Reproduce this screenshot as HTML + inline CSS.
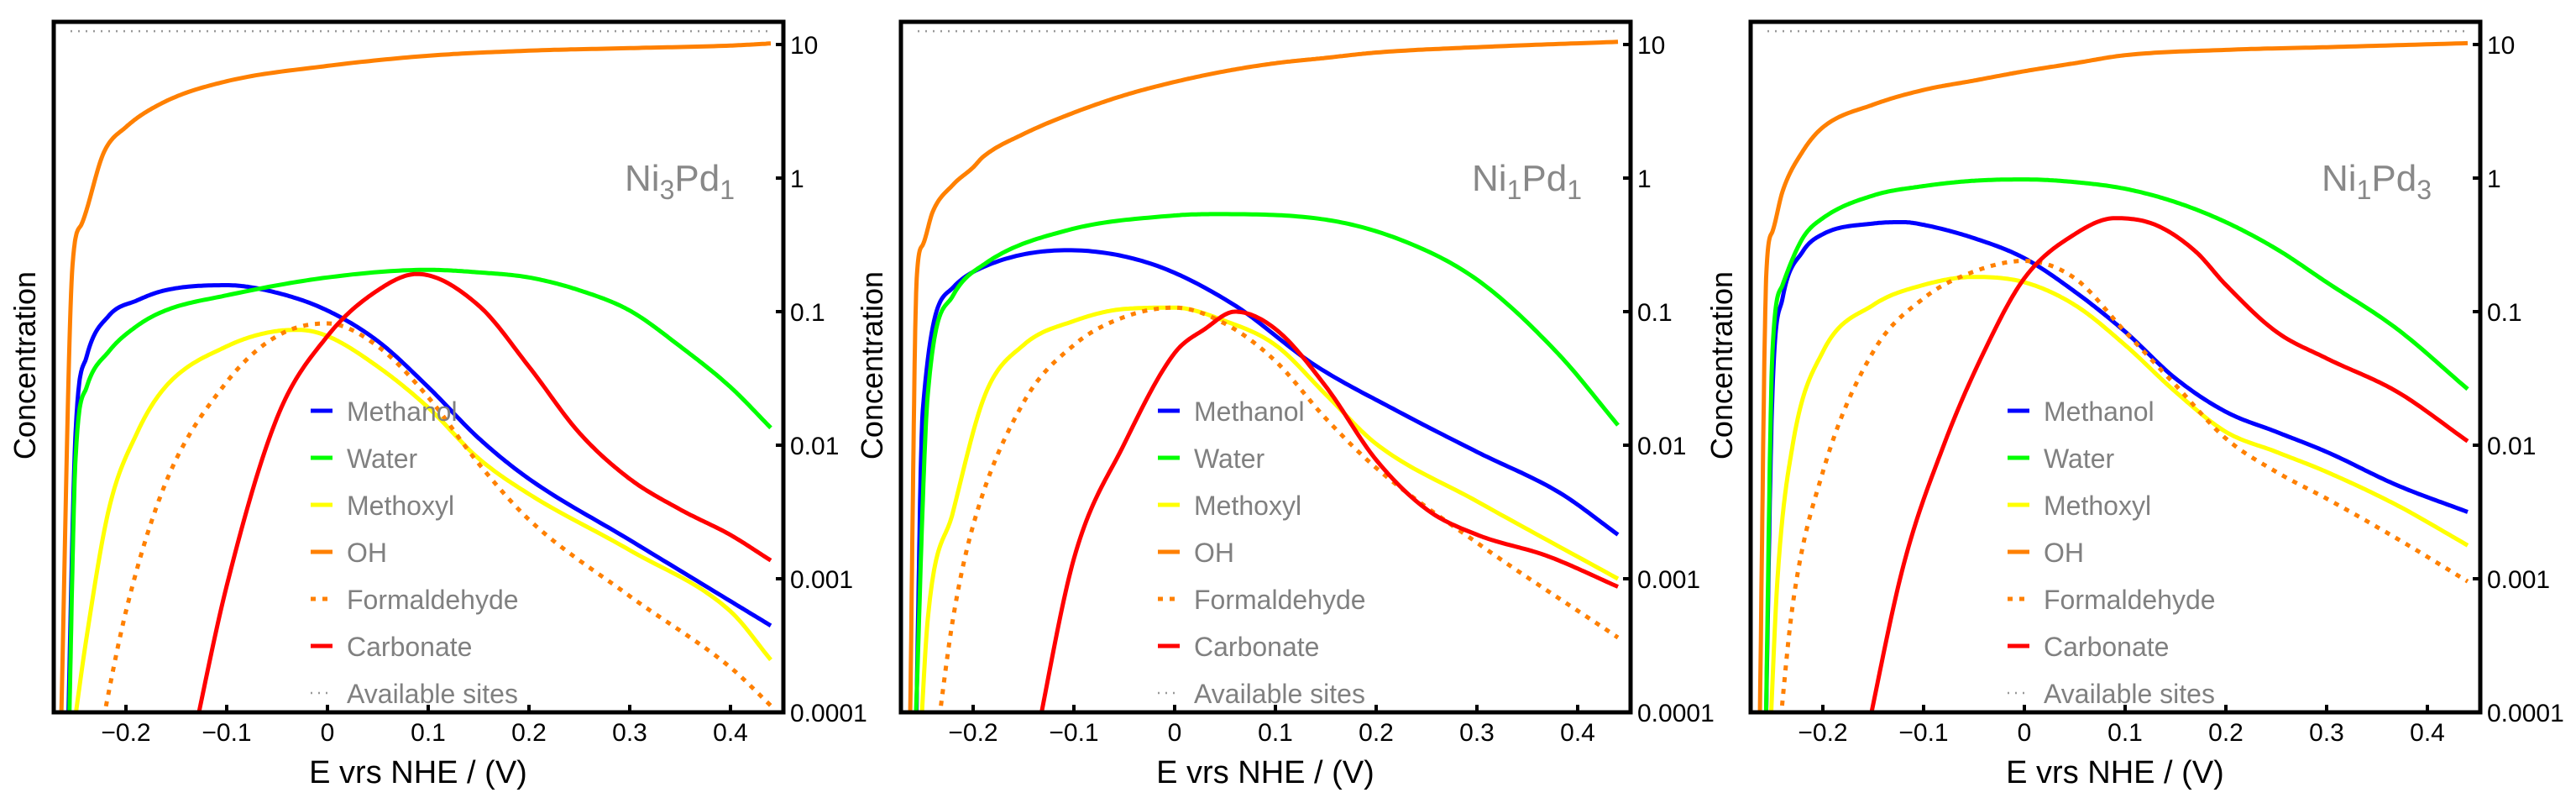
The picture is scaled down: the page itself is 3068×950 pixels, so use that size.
<!DOCTYPE html>
<html><head><meta charset="utf-8"><style>
html,body{margin:0;padding:0;background:#fff;}
svg{display:block;font-family:"Liberation Sans",Arial,sans-serif;}
</style></head><body>
<svg id="chart" width="3068" height="950" viewBox="0 0 3068 950" xmlns="http://www.w3.org/2000/svg"></svg>
<script>
// ---- data ----
const panelNames = ["Ni3Pd1", "Ni1Pd1", "Ni1Pd3"];
const xTicks = [-0.2, -0.1, 0, 0.1, 0.2, 0.3, 0.4];
const xTickLabels = ["\u22120.2", "\u22120.1", "0", "0.1", "0.2", "0.3", "0.4"];
const yTicksLog = [1, 0, -1, -2, -3, -4];
const yTickLabels = ["10", "1", "0.1", "0.01", "0.001", "0.0001"];
const seriesNames = ["Methanol", "Water", "Methoxyl", "OH", "Formaldehyde", "Carbonate", "Available sites"];
const availableSitesLog = 1.1;

// panel 1 (Ni3Pd1): [E values], [log10 concentration]
const p1MethanolE = [-0.258,-0.25,-0.239,-0.217,-0.189,-0.161,-0.1,-0.05,0,0.05,0.1,0.15,0.2,0.3,0.4,0.44];
const p1MethanolL = [-4.3,-1.908,-1.336,-1.031,-0.916,-0.84,-0.802,-0.859,-0.992,-1.221,-1.565,-1.947,-2.252,-2.71,-3.168,-3.351];
const p1WaterE = [-0.257,-0.25,-0.239,-0.217,-0.189,-0.161,-0.1,0,0.1,0.15,0.2,0.25,0.3,0.35,0.4,0.44];
const p1WaterL = [-4.3,-2.099,-1.565,-1.298,-1.107,-0.992,-0.878,-0.744,-0.687,-0.706,-0.744,-0.84,-0.992,-1.26,-1.565,-1.87];
const p1MethoxylE = [-0.255,-0.239,-0.217,-0.189,-0.161,-0.1,-0.05,-0.028,0,0.05,0.1,0.15,0.2,0.3,0.4,0.44];
const p1MethoxylL = [-4.3,-3.435,-2.481,-1.908,-1.565,-1.26,-1.145,-1.137,-1.183,-1.412,-1.718,-2.099,-2.366,-2.786,-3.244,-3.607];
const p1OHE = [-0.265,-0.253,-0.244,-0.222,-0.2,-0.161,-0.1,0,0.1,0.2,0.3,0.4,0.44];
const p1OHL = [-4.3,-0.649,-0.344,0.191,0.382,0.573,0.725,0.84,0.916,0.954,0.973,0.992,1.008];
const p1FormE = [-0.229,-0.2,-0.161,-0.1,-0.05,0,0.05,0.1,0.15,0.2,0.3,0.4,0.44];
const p1FormL = [-4.3,-3.244,-2.29,-1.527,-1.183,-1.088,-1.26,-1.641,-2.137,-2.557,-3.13,-3.664,-3.95];
const p1CarbE = [-0.136,-0.1,-0.05,0,0.05,0.089,0.15,0.2,0.25,0.3,0.35,0.4,0.44];
const p1CarbL = [-4.3,-3.053,-1.794,-1.183,-0.84,-0.718,-0.954,-1.412,-1.908,-2.252,-2.481,-2.672,-2.863];

// panel 2 (Ni1Pd1)
const p2MethanolE = [-0.257,-0.25,-0.22,-0.188,-0.106,-0.024,0.057,0.139,0.22,0.3,0.383,0.44];
const p2MethanolL = [-4.3,-1.74,-0.82,-0.66,-0.54,-0.64,-0.94,-1.4,-1.74,-2.05,-2.36,-2.67];
const p2WaterE = [-0.258,-0.245,-0.22,-0.188,-0.106,0,0.04,0.139,0.22,0.3,0.38,0.44];
const p2WaterL = [-4.3,-1.62,-0.88,-0.64,-0.39,-0.28,-0.27,-0.3,-0.45,-0.76,-1.31,-1.85];
const p2MethoxylE = [-0.253,-0.245,-0.22,-0.188,-0.15,-0.1,-0.05,0,0.05,0.1,0.15,0.2,0.3,0.44];
const p2MethoxylL = [-4.3,-3.3,-2.5,-1.62,-1.25,-1.07,-0.98,-0.97,-1.07,-1.25,-1.62,-1.99,-2.42,-3.0];
const p2OHE = [-0.263,-0.256,-0.25,-0.24,-0.22,-0.2,-0.19,-0.15,-0.1,-0.05,0,0.05,0.1,0.15,0.2,0.3,0.44];
const p2OHL = [-4.3,-0.75,-0.5,-0.25,-0.05,0.08,0.16,0.33,0.49,0.62,0.72,0.8,0.86,0.9,0.94,0.98,1.02];
const p2FormE = [-0.238,-0.22,-0.2,-0.15,-0.1,-0.05,0,0.05,0.1,0.15,0.2,0.3,0.44];
const p2FormL = [-4.3,-3.3,-2.6,-1.68,-1.25,-1.04,-0.97,-1.09,-1.37,-1.8,-2.17,-2.73,-3.44];
const p2CarbE = [-0.14,-0.1,-0.05,0,0.03,0.06,0.1,0.15,0.2,0.25,0.3,0.37,0.44];
const p2CarbL = [-4.3,-2.85,-1.99,-1.31,-1.13,-1.0,-1.13,-1.56,-2.11,-2.48,-2.67,-2.83,-3.06];

// panel 3 (Ni1Pd3)
const p3MethanolE = [-0.257,-0.25,-0.24,-0.22,-0.2,-0.15,-0.12,-0.1,-0.05,0,0.05,0.1,0.15,0.2,0.25,0.3,0.37,0.44];
const p3MethanolL = [-4.3,-1.6,-0.9,-0.55,-0.42,-0.34,-0.33,-0.35,-0.45,-0.6,-0.85,-1.15,-1.5,-1.75,-1.9,-2.05,-2.3,-2.5];
const p3WaterE = [-0.257,-0.25,-0.24,-0.22,-0.2,-0.15,-0.1,-0.05,0,0.05,0.1,0.15,0.2,0.25,0.3,0.37,0.44];
const p3WaterL = [-4.3,-1.3,-0.8,-0.45,-0.3,-0.13,-0.06,-0.02,-0.01,-0.03,-0.08,-0.18,-0.33,-0.53,-0.78,-1.13,-1.58];
const p3MethoxylE = [-0.253,-0.245,-0.23,-0.2,-0.15,-0.1,-0.05,0,0.05,0.1,0.15,0.2,0.25,0.3,0.37,0.44];
const p3MethoxylL = [-4.3,-3.0,-2.0,-1.3,-0.95,-0.8,-0.74,-0.78,-0.95,-1.25,-1.6,-1.9,-2.05,-2.2,-2.45,-2.75];
const p3OHE = [-0.263,-0.256,-0.25,-0.24,-0.22,-0.2,-0.15,-0.1,-0.05,0,0.05,0.1,0.2,0.3,0.44];
const p3OHL = [-4.3,-0.7,-0.4,-0.1,0.2,0.38,0.55,0.66,0.73,0.8,0.86,0.92,0.96,0.98,1.01];
const p3FormE = [-0.245,-0.23,-0.2,-0.15,-0.1,-0.05,0,0.05,0.1,0.15,0.2,0.25,0.3,0.37,0.44];
const p3FormL = [-4.3,-3.2,-2.2,-1.3,-0.9,-0.7,-0.62,-0.75,-1.15,-1.55,-1.95,-2.2,-2.4,-2.7,-3.02];
const p3CarbE = [-0.16,-0.12,-0.08,-0.04,0,0.05,0.09,0.13,0.17,0.2,0.25,0.3,0.37,0.44];
const p3CarbL = [-4.3,-2.9,-2.0,-1.3,-0.75,-0.42,-0.3,-0.35,-0.55,-0.8,-1.15,-1.35,-1.6,-1.97];

const panels = [
  {m:[p1MethanolE,p1MethanolL], w:[p1WaterE,p1WaterL], y:[p1MethoxylE,p1MethoxylL], o:[p1OHE,p1OHL], f:[p1FormE,p1FormL], c:[p1CarbE,p1CarbL]},
  {m:[p2MethanolE,p2MethanolL], w:[p2WaterE,p2WaterL], y:[p2MethoxylE,p2MethoxylL], o:[p2OHE,p2OHL], f:[p2FormE,p2FormL], c:[p2CarbE,p2CarbL]},
  {m:[p3MethanolE,p3MethanolL], w:[p3WaterE,p3WaterL], y:[p3MethoxylE,p3MethoxylL], o:[p3OHE,p3OHL], f:[p3FormE,p3FormL], c:[p3CarbE,p3CarbL]}
];

// ---- layout ----
const NS = "http://www.w3.org/2000/svg";
const svg = document.getElementById("chart");
const offsets = [0, 1009, 2021];
const frameL = 64, frameR = 933, frameT = 26, frameB = 848;
function mk(tag, attrs, parent) {
  const e = document.createElementNS(NS, tag);
  for (const k in attrs) e.setAttribute(k, attrs[k]);
  parent.appendChild(e);
  return e;
}
// monotone cubic (Fritsch-Carlson) interpolation, sampled densely
function monotonePts(xs, ys) {
  const n = xs.length, d = [], m = new Array(n);
  for (let i = 0; i < n - 1; i++) d.push((ys[i + 1] - ys[i]) / (xs[i + 1] - xs[i]));
  m[0] = d[0]; m[n - 1] = d[n - 2];
  for (let i = 1; i < n - 1; i++) m[i] = (d[i - 1] * d[i] <= 0) ? 0 : (d[i - 1] + d[i]) / 2;
  for (let i = 0; i < n - 1; i++) {
    if (d[i] === 0) { m[i] = 0; m[i + 1] = 0; continue; }
    const a = m[i] / d[i], b = m[i + 1] / d[i], s = a * a + b * b;
    if (s > 9) { const t = 3 / Math.sqrt(s); m[i] = t * a * d[i]; m[i + 1] = t * b * d[i]; }
  }
  const out = [];
  for (let i = 0; i < n - 1; i++) {
    const h = xs[i + 1] - xs[i];
    const steps = 24;
    for (let k = 0; k < steps; k++) {
      const t = k / steps, t2 = t * t, t3 = t2 * t;
      const y = (2 * t3 - 3 * t2 + 1) * ys[i] + (t3 - 2 * t2 + t) * h * m[i] + (-2 * t3 + 3 * t2) * ys[i + 1] + (t3 - t2) * h * m[i + 1];
      out.push([xs[i] + t * h, y]);
    }
  }
  out.push([xs[n - 1], ys[n - 1]]);
  return out;
}
const seriesStyle = [
  {key:"m", color:"#0000ff", dash:null, name:"methanol"},
  {key:"w", color:"#00ff00", dash:null, name:"water"},
  {key:"y", color:"#ffff00", dash:null, name:"methoxyl"},
  {key:"f", color:"#ff8000", dash:"6 8", name:"formaldehyde"},
  {key:"c", color:"#ff0000", dash:null, name:"carbonate"},
  {key:"o", color:"#ff8000", dash:null, name:"oh"}
];
const legendColors = ["#0000ff","#00ff00","#ffff00","#ff8000","#ff8000","#ff0000","#999999"];
const legendRows = [489, 545, 601, 657, 713, 769, 825];

panels.forEach((pd, pi) => {
  const off = offsets[pi];
  const xS = v => 390 + off + v * 1200;
  const yS = L => 53 + (1 - L) * 159;
  const g = mk("g", {}, svg);
  
  

  const cp = mk("clipPath", {id: "clip" + pi}, g);
  mk("rect", {x: frameL + off, y: frameT, width: frameR - frameL, height: frameB - frameT}, cp);

  const av = mk("line", {x1: xS(-0.255), x2: xS(0.44), y1: yS(availableSitesLog), y2: yS(availableSitesLog), stroke: "#999", "stroke-width": 2.5, "stroke-dasharray": "2 7"}, g);
  
  

  const lg = mk("g", {"clip-path": "url(#clip" + pi + ")"}, g);
  seriesStyle.forEach(s => {
    const arr = pd[s.key];
    const pts = monotonePts(arr[0], arr[1]).map(p => [xS(p[0]), yS(p[1])]);
    const d = "M" + pts.map(p => p[0].toFixed(1) + "," + p[1].toFixed(1)).join(" L");
    const p = mk("path", {d: d, fill: "none", stroke: s.color, "stroke-width": 5, "stroke-linejoin": "round"}, lg);
    if (s.dash) p.setAttribute("stroke-dasharray", s.dash);
    
    
  });

  const fr = mk("rect", {x: frameL + off, y: frameT, width: frameR - frameL, height: frameB - frameT, fill: "none", stroke: "#000", "stroke-width": 5}, g);
  
  

  xTicks.forEach((v, i) => {
    mk("line", {x1: xS(v), x2: xS(v), y1: frameB, y2: frameB - 9, stroke: "#000", "stroke-width": 4}, g);
    const t = mk("text", {x: xS(v), y: 882, "font-size": 30, "text-anchor": "middle", fill: "#000"}, g);
    t.textContent = xTickLabels[i];
    
    
  });
  yTicksLog.forEach((L, i) => {
    mk("line", {x1: frameR + off, x2: frameR + off - 9, y1: yS(L), y2: yS(L), stroke: "#000", "stroke-width": 4}, g);
    const t = mk("text", {x: frameR + off + 8, y: yS(L) + 11, "font-size": 30, fill: "#000"}, g);
    t.textContent = yTickLabels[i];
    
    
  });
  const xt = mk("text", {x: 498 + off, y: 932, "font-size": 38, "text-anchor": "middle", fill: "#000"}, g);
  xt.textContent = "E vrs NHE / (V)";
  
  
  const yt = mk("text", {x: 0, y: 0, "font-size": 36, "text-anchor": "middle", fill: "#000", transform: "translate(" + (42 + off) + ",435) rotate(-90)"}, g);
  yt.textContent = "Concentration";
  
  

  const nm = panelNames[pi];
  const lab = mk("text", {x: 875 + off, y: 227, "font-size": 44, "text-anchor": "end", fill: "#888"}, g);
  
  
  const parts = [["Ni",0],[nm[2],1],["Pd",0],[nm[5],1]];
  parts.forEach((pt, k) => {
    const ts = mk("tspan", pt[1] ? {"font-size": 32, dy: 10} : {"font-size": 44, dy: k === 0 ? 0 : -10}, lab);
    ts.textContent = pt[0];
  });

  seriesNames.forEach((n, i) => {
    const ly = legendRows[i];
    const ll = mk("line", {x1: 370 + off, x2: 396 + off, y1: ly, y2: ly, stroke: legendColors[i], "stroke-width": i === 6 ? 2.5 : 5}, g);
    if (i === 4) ll.setAttribute("stroke-dasharray", "6 8");
    if (i === 6) ll.setAttribute("stroke-dasharray", "2 7");
    
    
    const lt = mk("text", {x: 413 + off, y: ly + 12, "font-size": 32, fill: "#808080"}, g);
    lt.textContent = n;
    
    
  });
});
</script>
</body></html>
